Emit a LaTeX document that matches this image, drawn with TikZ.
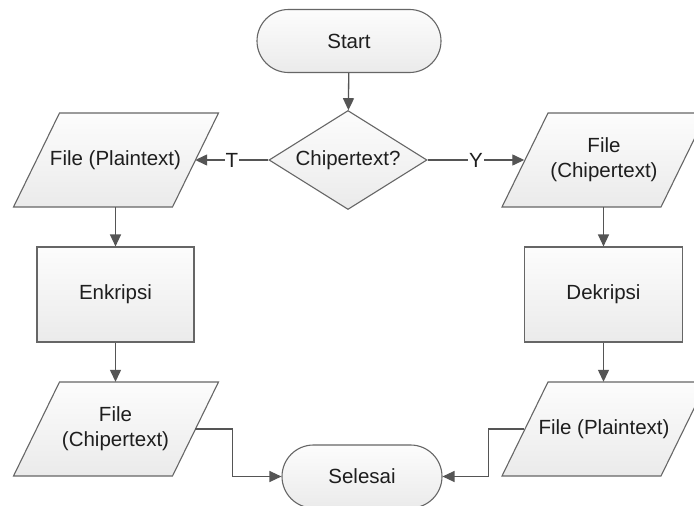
\documentclass[tikz,border=0pt]{standalone}
\usepackage{fontspec}
\setmainfont{Liberation Sans}
\usetikzlibrary{shapes.geometric,shapes.misc,arrows.meta}
\definecolor{linec}{HTML}{555555}
\definecolor{borderc}{HTML}{666666}
\definecolor{textc}{HTML}{1E1E1E}
\tikzset{
  base/.style={draw=borderc, line width=1.1pt, top color=black!1, bottom color=black!8, text=textc, font=\fontsize{20.5}{25}\selectfont, align=center},
  term/.style={base, rounded rectangle, minimum height=63pt, inner sep=0pt},
  procbox/.style={base, rectangle, minimum width=157pt, minimum height=95pt, inner sep=0pt},
  decbox/.style={base, diamond, minimum width=158pt, minimum height=99pt, inner sep=0pt, aspect=1.6},
  iofill/.style={draw=borderc, line width=1.1pt, top color=black!1, bottom color=black!8},
  iotext/.style={text=textc, font=\fontsize{20.5}{25}\selectfont, align=center, minimum width=159pt, minimum height=94pt, inner sep=0pt},
  conn/.style={draw=linec, line width=1.3pt, -{Triangle[length=12pt,width=11pt]}},
  lab/.style={fill=white, inner sep=1pt, text=textc, font=\fontsize{20.5}{25}\selectfont},
}
\newcommand{\ioshape}[4]{%
  \path[iofill] (#2-102,#3-47) -- (#2+57,#3-47) -- (#2+103,#3+47) -- (#2-56,#3+47) -- cycle;
  \node[iotext] (#1) at (#2,#3) {#4};
}
\begin{document}
\begin{tikzpicture}[x=1pt,y=1pt]
\useasboundingbox (0,0) rectangle (694,-506);
\clip (0,0) rectangle (694,-506);
\fill[white] (0,0) rectangle (694,-506);

\node[term, minimum width=184pt] (start) at (349,-41) {Start};
\node[decbox] (dec) at (348,-160) {Chipertext?};
\ioshape{pin}{115.5}{-160}{File (Plaintext)}
\ioshape{cin}{604}{-160}{File\\(Chipertext)}
\node[procbox] (enc) at (115.5,-294.5) {Enkripsi};
\node[procbox, minimum width=158pt] (dek) at (603.5,-294.5) {Dekripsi};
\ioshape{cout}{115.5}{-429}{File\\(Chipertext)}
\ioshape{pout}{604}{-429}{File (Plaintext)}
\node[term, minimum width=160pt] (sel) at (362,-476.5) {Selesai};

\draw[conn] (start) -- (dec);
\draw[conn] (dec.west) -- node[lab] {T} (pin.east);
\draw[conn] (dec.east) -- node[lab] {Y} (cin.west);
\draw[conn] (pin.south) -- (enc.north);
\draw[conn] (cin.south -| dek.north) -- (dek.north);
\draw[conn] (enc.south) -- (cout.north);
\draw[conn] (dek.south) -- (dek.south |- pout.north);
\draw[conn] (cout.east) -- ++(37,0) |- (sel.west);
\draw[conn] (pout.west) -- ++(-35.5,0) |- (sel.east);
\end{tikzpicture}
\end{document}
